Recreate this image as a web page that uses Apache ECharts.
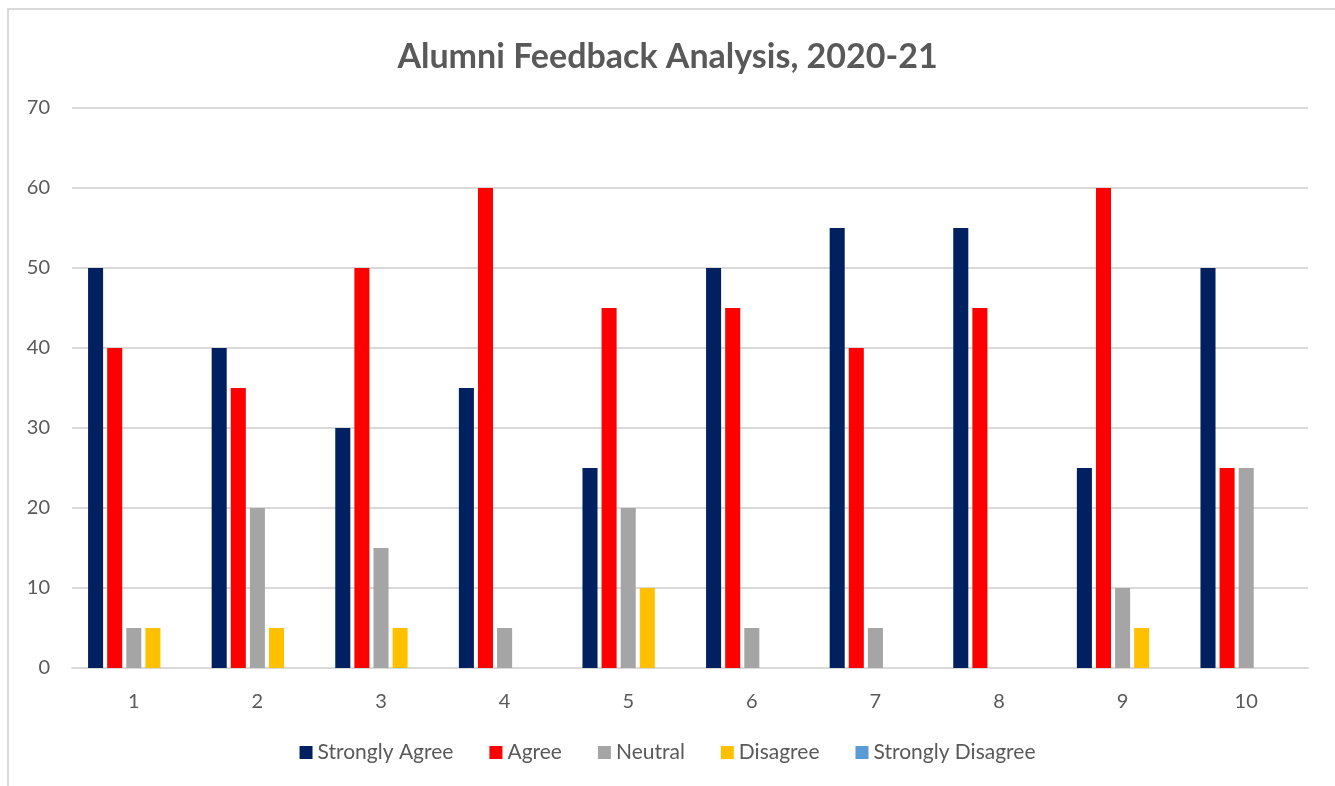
<!DOCTYPE html>
<html>
<head>
<meta charset="utf-8">
<script src="https://cdn.jsdelivr.net/npm/echarts@6/dist/echarts.min.js"></script>
<style>
  html, body { margin: 0; padding: 0; background: #fff; }
  #main { width: 1335px; height: 786px; }
</style>
</head>
<body>
<div id="main"></div>
<script>
// data
var categories = ["1", "2", "3", "4", "5", "6", "7", "8", "9", "10"];
var stronglyAgree = [50, 40, 30, 35, 25, 50, 55, 55, 25, 50];
var agree = [40, 35, 50, 60, 45, 45, 40, 45, 60, 25];
var neutral = [5, 20, 15, 5, 20, 5, 5, 0, 10, 25];
var disagree = [5, 5, 5, 0, 10, 0, 0, 0, 5, 0];
var stronglyDisagree = [0, 0, 0, 0, 0, 0, 0, 0, 0, 0];
var seriesNames = ["Strongly Agree", "Agree", "Neutral", "Disagree", "Strongly Disagree"];
var yTicks = { min: 0, max: 70, interval: 10 };

var textColor = "#595959";
var font = "Lato, 'Open Sans', sans-serif";

var chart = echarts.init(document.getElementById("main"));

function bar(name, data, color) {
  return {
    name: name,
    type: "bar",
    data: data,
    itemStyle: { color: color },
    barGap: "27%",
    barCategoryGap: "26%"
  };
}

var option = {
  animation: false,
  textStyle: { fontFamily: font, color: textColor },
  graphic: [
    {
      type: "rect",
      shape: { x: 8, y: 9, width: 1500, height: 1000 },
      style: { fill: "none", stroke: "#d9d9d9", lineWidth: 2 },
      silent: true
    }
  ],
  title: {
    text: "Alumni Feedback Analysis, 2020-21",
    left: "center",
    top: 35,
    textStyle: { fontFamily: font, fontSize: 34, fontWeight: "bold", color: textColor }
  },
  legend: {
    bottom: 18,
    left: "center",
    itemWidth: 13,
    itemHeight: 13,
    itemGap: 36,
    icon: "rect",
    textStyle: { fontFamily: font, fontSize: 21, color: textColor },
    data: seriesNames
  },
  grid: { left: 72, right: 27, top: 108, bottom: 118 },
  xAxis: {
    type: "category",
    data: categories,
    axisLine: { lineStyle: { color: "#d9d9d9", width: 2 } },
    axisTick: { show: false },
    axisLabel: { fontFamily: font, fontSize: 20, color: textColor, margin: 24 }
  },
  yAxis: {
    type: "value",
    min: yTicks.min,
    max: yTicks.max,
    interval: yTicks.interval,
    axisLine: { show: false },
    axisTick: { show: false },
    axisLabel: { fontFamily: font, fontSize: 20, color: textColor, margin: 22 },
    splitLine: { lineStyle: { color: "#d9d9d9", width: 2 } }
  },
  series: [
    bar(seriesNames[0], stronglyAgree, "#002060"),
    bar(seriesNames[1], agree, "#FF0000"),
    bar(seriesNames[2], neutral, "#A5A5A5"),
    bar(seriesNames[3], disagree, "#FFC000"),
    bar(seriesNames[4], stronglyDisagree, "#5B9BD5")
  ]
};

chart.setOption(option);
</script>
</body>
</html>
